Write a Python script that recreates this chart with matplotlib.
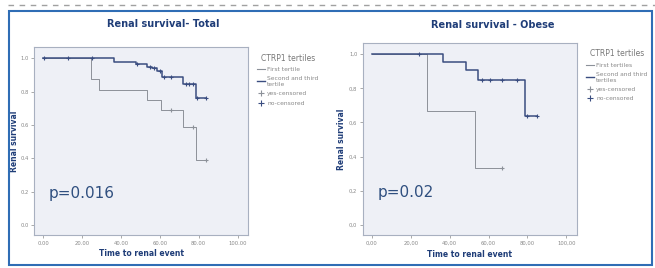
import matplotlib.pyplot as plt
import numpy as np
from matplotlib.lines import Line2D
from matplotlib.patches import Rectangle

# Left panel: total cohort
tot_first_t = [0, 24.7, 28.7, 53.5, 60.7, 71.8, 78.4, 84]
tot_first_s = [1.0, 0.875, 0.81, 0.75, 0.69, 0.59, 0.39, 0.39]
tot_first_cens = [66, 77, 84]
tot_second_t = [0, 36.6, 48, 53.7, 56, 58.6, 61, 72, 78.4, 84]
tot_second_s = [1.0, 0.98, 0.965, 0.95, 0.94, 0.925, 0.89, 0.845, 0.76, 0.76]
tot_second_cens = [0.5, 13, 25, 48.5, 55, 57, 60, 62, 66, 73.5, 75, 77, 79, 84]

# Right panel: obese
ob_first_t = [0, 28.5, 53, 66.7]
ob_first_s = [1.0, 0.67, 0.333, 0.333]
ob_first_cens = [66.7]
ob_second_t = [0, 36.4, 48.4, 54.5, 78.5, 85]
ob_second_s = [1.0, 0.953, 0.906, 0.85, 0.64, 0.64]
ob_second_cens = [24, 56.7, 61, 67, 74.6, 80, 85]

x_ticks = [0, 20, 40, 60, 80, 100]
y_ticks = [0.0, 0.2, 0.4, 0.6, 0.8, 1.0]

GRAY = '#8c9199'
BLUE = '#3a4d80'
TITLE = '#1f3d78'
BG = '#eef0f6'


def surv_at(times, surv, t):
    i = np.searchsorted(times, t, side='right') - 1
    return surv[max(i, 0)]


def km_panel(ax, curves, pval, sep, legend_labels, ylab_x, xlab_y):
    ax.set_facecolor(BG)
    for times, surv, cens, col, lw in curves:
        ax.step(times, surv, where='post', color=col, lw=lw)
        ys = [surv_at(times, surv, c) for c in cens]
        ax.plot(cens, ys, ls='none', marker='+', ms=3.5, mew=0.8, color=col)
    ax.set_xlim(-4.6, 105.5)
    ax.set_ylim(-0.06, 1.065)
    ax.set_xticks(x_ticks)
    ax.set_yticks(y_ticks)
    ax.set_xticklabels([f'{v:.2f}'.replace('.', sep) for v in x_ticks])
    ax.set_yticklabels([f'{v:.1f}'.replace('.', sep) for v in y_ticks])
    ax.tick_params(labelsize=3.8, colors='#888888', length=2, width=0.5,
                   pad=2, labelcolor='#888888')
    for s in ax.spines.values():
        s.set_color('#a8b0c0')
        s.set_linewidth(0.8)
    ax.text(0.5, xlab_y, 'Time to renal event', transform=ax.transAxes,
            fontsize=5.5, fontweight='bold', color=TITLE,
            ha='center', va='center')
    ax.text(ylab_x, 0.5, 'Renal survival', transform=ax.transAxes,
            fontsize=5.5, fontweight='bold', color=TITLE,
            ha='center', va='center', rotation=90)
    ax.text(0.07, 0.22, pval, transform=ax.transAxes, fontsize=11,
            color='#2f4f7f', va='center')
    handles = [
        Line2D([], [], color=GRAY, lw=0.8, drawstyle='steps-post'),
        Line2D([], [], color=BLUE, lw=1.0, drawstyle='steps-post'),
        Line2D([], [], color=GRAY, ls='none', marker='+', ms=4, mew=0.8),
        Line2D([], [], color=BLUE, ls='none', marker='+', ms=4, mew=0.8),
    ]
    leg = ax.legend(handles, legend_labels, title='CTRP1 tertiles',
                    loc='upper left', bbox_to_anchor=(1.03, 0.98),
                    frameon=False, fontsize=4.3, title_fontsize=5.5,
                    handlelength=1.4, handletextpad=0.3, labelspacing=0.7,
                    borderaxespad=0)
    leg.get_title().set_color('#777777')
    for t in leg.get_texts():
        t.set_color('#888888')


fig = plt.figure(figsize=(6.55, 2.68), dpi=100)

ax1 = fig.add_axes([0.052, 0.123, 0.327, 0.70])
km_panel(ax1,
         [(tot_first_t, tot_first_s, tot_first_cens, GRAY, 0.7),
          (tot_second_t, tot_second_s, tot_second_cens, BLUE, 1.1)],
         'p=0.016', '.',
         ['First tertile', 'Second and third\ntertile', 'yes-censored', 'no-censored'],
         -0.089, -0.10)

ax2 = fig.add_axes([0.554, 0.123, 0.327, 0.716])
km_panel(ax2,
         [(ob_first_t, ob_first_s, ob_first_cens, GRAY, 0.7),
          (ob_second_t, ob_second_s, ob_second_cens, BLUE, 1.1)],
         'p=0.02', ',',
         ['First tertiles', 'Second and third\ntertiles', 'yes-censored', 'no-censored'],
         -0.098, -0.104)

fig.text(163 / 655, 1 - 24 / 268, 'Renal survival- Total', fontsize=7,
         fontweight='bold', color=TITLE, ha='center', va='center')
fig.text(493 / 655, 1 - 25 / 268, 'Renal survival - Obese', fontsize=7,
         fontweight='bold', color=TITLE, ha='center', va='center')

# outer frame and dashed rule above it
fig.patches.append(Rectangle((9 / 655, 3 / 268), 643 / 655, 254 / 268,
                             transform=fig.transFigure, fill=False,
                             edgecolor='#2f6db5', lw=1.5))
fig.add_artist(Line2D([8 / 655, 1.0], [1 - 5 / 268, 1 - 5 / 268],
                      transform=fig.transFigure, color='#a0a0a0',
                      lw=1, ls=(0, (4, 4))))

fig.savefig('out.png', dpi=100)
